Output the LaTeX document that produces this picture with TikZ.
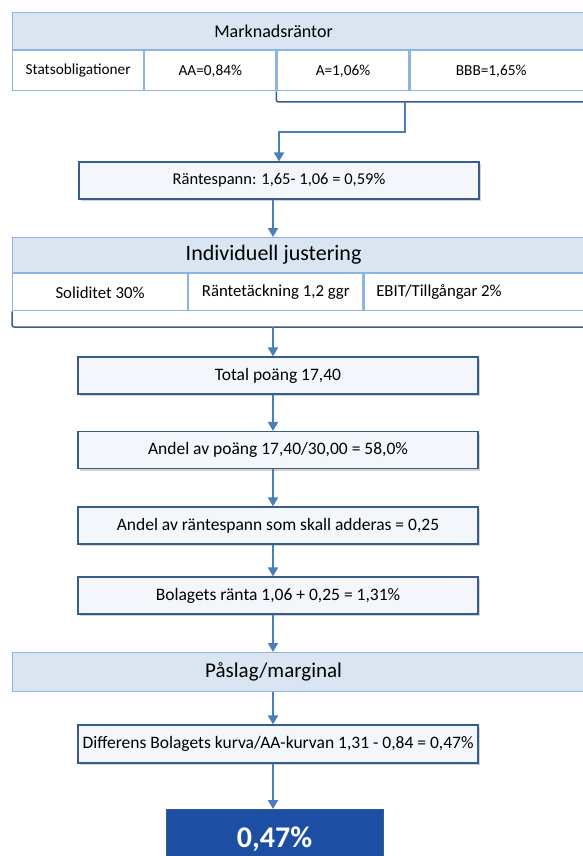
\documentclass[tikz,border=0pt]{standalone}
\usepackage{fontspec}
\setmainfont{Carlito}
\usetikzlibrary{arrows.meta,positioning,shadows,calc}
\definecolor{LineBlue}{HTML}{8EB4E3}
\definecolor{HeadFill}{HTML}{DBE5F1}
\definecolor{StepLine}{HTML}{385D8A}
\definecolor{StepFill}{HTML}{F3F7FC}
\definecolor{ArrowBlue}{HTML}{4A7EBB}
\definecolor{ResultBlue}{HTML}{1C4FA3}
\newcommand{\padtext}[3]{\makebox[#1]{#3}\hspace*{#2}}

\begin{document}
\begin{tikzpicture}[
  x=1pt,y=-1pt,
  head/.style={draw=LineBlue,line width=1.2pt,fill=HeadFill,inner sep=0pt,minimum width=580pt,minimum height=37pt,anchor=north west,font=\fontsize{18}{20}\selectfont},
  cell/.style={draw=LineBlue,line width=1.2pt,fill=white,inner sep=0pt,minimum height=40pt,anchor=north west,font=\fontsize{15.3}{17}\selectfont},
  stepbox/.style={draw=StepLine,line width=1.2pt,fill=StepFill,inner sep=0pt,minimum width=400pt,minimum height=37pt,font=\fontsize{17.5}{19}\selectfont,drop shadow={shadow xshift=1.5pt,shadow yshift=-2pt,opacity=0.35,fill=gray}},
  result/.style={draw=StepLine,line width=1pt,fill=ResultBlue,text=white,inner sep=0pt,minimum width=217pt,minimum height=60pt,anchor=north,font=\fontsize{30}{32}\selectfont\bfseries},
  arr/.style={-{Triangle[width=10pt,length=9pt]},line width=2pt,draw=ArrowBlue},
  brace/.style={line width=1.5pt,draw=StepLine,rounded corners=2pt}
]
\useasboundingbox (0,0) rectangle (582,856);
\coordinate (axis) at (273,0);

% market rates
\node[head] (mr) at (12,12) {\padtext{522pt}{58pt}{Marknadsräntor}};
\node[cell,minimum width=131pt] (stat) at (mr.south west) {Statsobligationer};
\node[cell,minimum width=131pt] (aa) at (stat.north east) {AA=0,84\%};
\node[cell,minimum width=132pt] (aone) at (aa.north east) {A=1,06\%};
\node[cell,minimum width=180pt] (bbb) at (aone.north east) {\padtext{162pt}{18pt}{BBB=1,65\%}};
\coordinate (b1) at (405,102);
\draw[brace] (aa.south east) |- (590,102);

\node[stepbox,font=\fontsize{16.5}{18}\selectfont] (rs) at (279,180.5) {Räntespann: 1,65- 1,06 = 0,59\%};
\draw[arr] (b1) |- ($(rs.north)+(0,-29)$) -- (rs.north);

% individual adjustment
\node[head,minimum height=35pt,font=\fontsize{22}{24}\selectfont] (ij) at (12,237) {\padtext{522pt}{58pt}{Individuell justering}};
\node[cell,minimum width=175pt,minimum height=37pt,font=\fontsize{16.8}{18}\selectfont] (sol) at (ij.south west) {Soliditet 30\%};
\node[cell,minimum width=174pt,minimum height=37pt,font=\fontsize{16.8}{18}\selectfont] (rt) at (sol.north east) {Räntetäckning 1,2 ggr};
\node[cell,minimum width=231pt,minimum height=37pt,font=\fontsize{16.8}{18}\selectfont] (ebit) at (rt.north east) {\padtext{150pt}{81pt}{EBIT/Tillgångar 2\%}};
\draw[arr] (rs.south -| axis) -- (ij.north -| axis);
\coordinate (b2) at (273,327);
\draw[brace] (sol.south west) |- (590,327);

% steps
\node[stepbox] (tp) at (278,375.5) {Total poäng 17,40};
\node[stepbox] (ap) at (278,450) {Andel av poäng 17,40/30,00 = 58,0\%};
\node[stepbox] (ar) at (278,525.5) {Andel av räntespann som skall adderas = 0,25};
\node[stepbox] (br) at (278,595.5) {Bolagets ränta 1,06 + 0,25 = 1,31\%};
\node[head,minimum height=39pt,font=\fontsize{21}{23}\selectfont] (pm) at (12,652) {\padtext{522pt}{58pt}{Påslag/marginal}};
\node[stepbox,minimum height=38pt] (df) at (278,744) {Differens Bolagets kurva/AA-kurvan 1,31 - 0,84 = 0,47\%};
\node[result] (res) at (274.5,809) {0,47\%};

\draw[arr] (b2) -- (tp.north -| b2);
\foreach \a/\b in {tp/ap,ap/ar,ar/br,br/pm,pm/df,df/res}
  \draw[arr] (\a.south -| axis) -- (\b.north -| axis);
\end{tikzpicture}
\end{document}
